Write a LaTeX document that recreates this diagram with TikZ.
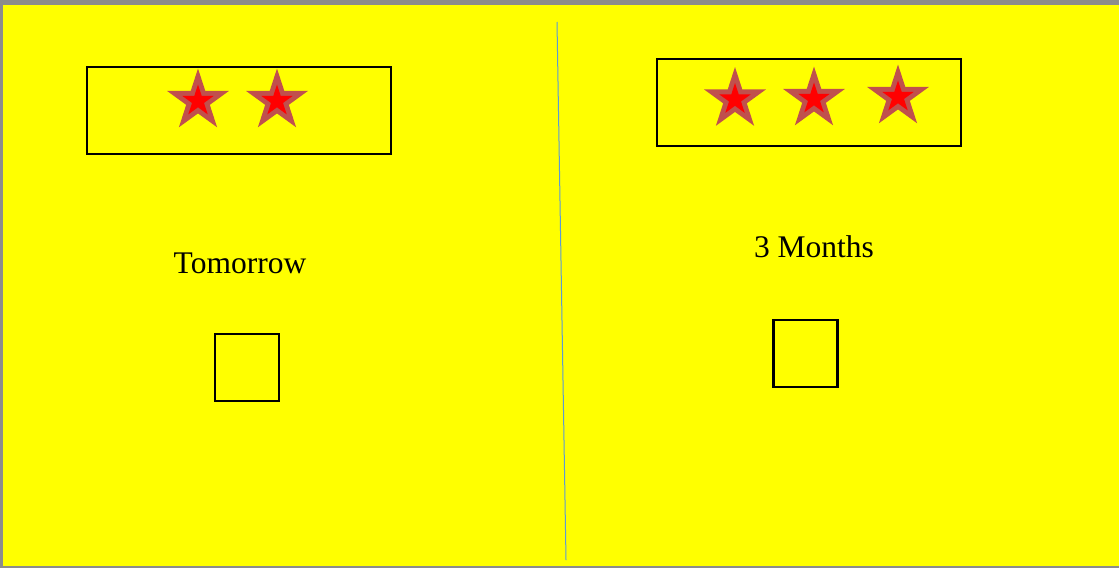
\documentclass[tikz,border=0pt]{standalone}
\usepackage{fontspec}
\setmainfont{Liberation Serif}
\usetikzlibrary{shapes.geometric}
\definecolor{pagebg}{HTML}{FFFF00}
\definecolor{edgegray}{HTML}{8C8C8C}
\definecolor{starrim}{HTML}{C0504D}
\definecolor{splitblue}{HTML}{5B9BD5}
\tikzset{
	panelbox/.style={draw=black, line width=2.2pt, minimum width=304pt, minimum height=87pt, inner sep=0pt},
	tickbox/.style={draw=black, line width=2.4pt, minimum width=64pt, minimum height=67pt, inner sep=0pt},
	bigstar/.style={star, star points=5, star point ratio=2.618, fill=starrim, inner sep=0pt, minimum size=65pt},
	smallstar/.style={star, star points=5, star point ratio=2.618, fill=red, inner sep=0pt, minimum size=33pt},
	caption/.style={font=\fontsize{31.5}{36}\selectfont, inner sep=0pt, anchor=base}
}
\newcommand{\ratingstar}[2]{%
	\node[bigstar] (#1) at #2 {};
	\node[smallstar] at #2 {};
}
\begin{document}
\begin{tikzpicture}[x=1pt, y=-1pt]
	\useasboundingbox (0,0) rectangle (1119,568);
	\fill[pagebg] (0,0) rectangle (1119,568);
	% frame on three sides
	\fill[edgegray] (0,0) rectangle (1119,4.5);
	\fill[edgegray] (0,0) rectangle (3,568);
	\fill[edgegray] (0,566) rectangle (1119,568);
	% divider
	\coordinate (splittop) at (557,22);
	\coordinate (splitbot) at (566,560);
	\draw[splitblue, line width=1pt] (splittop) -- (splitbot);
	% left panel
	\node[panelbox] (leftbox) at (239,110.5) {};
	\ratingstar{lstarA}{(198,101)}
	\ratingstar{lstarB}{(277,101)}
	\node[caption] (leftcap) at (240,273.3) {Tomorrow};
	\node[tickbox] (leftsq) at (247,367.5) {};
	% right panel
	\node[panelbox] (rightbox) at (809,102.5) {};
	\ratingstar{rstarA}{(735,99.5)}
	\ratingstar{rstarB}{(814,99)}
	\ratingstar{rstarC}{(898,97)}
	\node[caption] (rightcap) at (814,257.3) {3 Months};
	\node[tickbox] (rightsq) at (805.3,353.3) {};
\end{tikzpicture}
\end{document}
